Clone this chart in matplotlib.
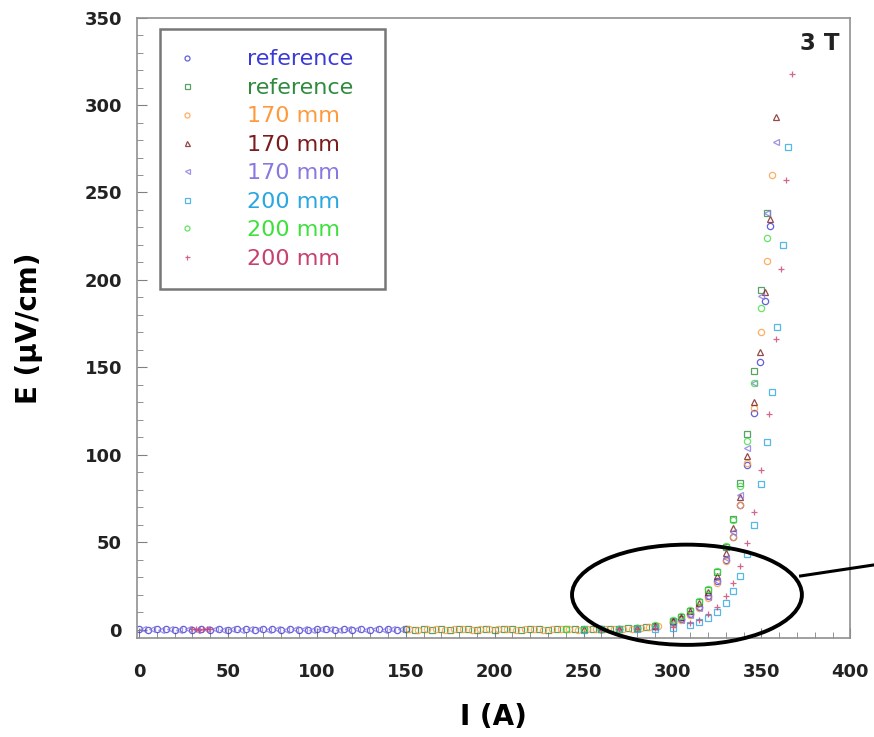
import matplotlib.pyplot as plt
from matplotlib.patches import Ellipse
from matplotlib.lines import Line2D
from matplotlib.ticker import MultipleLocator

plt.rcParams['font.family'] = ['DejaVu Sans']

# values: current I (A) and electric field E (uV/cm)
ref_blue_I = [0, 5, 10, 15, 20, 25, 30, 35, 40, 45, 50, 55, 60, 65, 70, 75, 80, 85, 90,
              95, 100, 105, 110, 115, 120, 125, 130, 135, 140, 145, 150,
              260, 270, 280, 290, 300, 305, 310, 315, 320, 325, 330, 334, 338, 342,
              346, 349, 352, 355]
ref_blue_E = [0.2, -0.3, 0.1, 0.3, -0.2, 0.2, 0.0, 0.3, -0.1, 0.2, -0.3, 0.1, 0.2, -0.2,
              0.1, 0.3, -0.1, 0.2, 0.0, -0.2, 0.3, 0.1, -0.2, 0.2, 0.0, 0.3, -0.1, 0.1,
              0.2, -0.2, 0.1,
              0.1, 0.3, 0.8, 1.8, 4.1, 6.0, 8.9, 13, 19, 28, 40, 53, 71, 94,
              124, 153, 188, 231]

ref_green_I = [150, 155, 160, 165, 170, 175, 180, 185, 190, 195, 200, 205, 210, 215, 220,
               225, 230, 235, 240, 245, 250, 255, 260, 265, 270, 275, 280, 285, 290,
               300, 305, 310, 315, 320, 325, 330, 334, 338, 342, 346, 350, 353]
ref_green_E = [0.1, -0.2, 0.3, 0.0, 0.2, -0.1, 0.3, 0.1, -0.2, 0.2, 0.0, 0.3, 0.1, -0.1,
               0.2, 0.1, 0.0, 0.3, 0.1, 0.2, 0.1, 0.2, 0.2, 0.3, 0.4, 0.6, 0.9, 1.4, 2.1,
               4.8, 7.1, 10.6, 15.5, 22.6, 32.8, 47, 63, 84, 112, 148, 194, 238]

o170_I = [152, 157, 162, 167, 172, 177, 182, 187, 192, 197, 202, 207, 212, 217, 222,
          227, 232, 237, 242, 247, 252, 257, 262, 267, 272, 277, 282, 287, 292,
          300, 305, 310, 315, 320, 325, 330, 334, 338, 342, 346, 350, 353, 356]
o170_E = [0.2, 0.0, 0.3, 0.1, -0.1, 0.2, 0.3, 0.0, 0.2, 0.1, 0.2, 0.3, 0.0, 0.2, 0.1,
          -0.1, 0.2, 0.3, 0.1, 0.0, 0.2, 0.1, 0.2, 0.3, 0.4, 0.5, 0.8, 1.2, 1.8,
          3.6, 5.5, 8.2, 12.2, 18.1, 26.7, 39, 53, 71, 95, 127, 170, 211, 260]

m170_I = [250, 260, 270, 280, 290, 300, 305, 310, 315, 320, 325, 330, 334, 338, 342,
          346, 349, 352, 355, 358]
m170_E = [0.1, 0.2, 0.4, 1.0, 2.2, 4.9, 7.1, 10.4, 15.0, 21.6, 30.8, 43.8, 57.8, 75.9,
          99.5, 130, 159, 193, 235, 293]

p170_I = [2.5, 7.5, 12.5, 17.5, 22.5, 27.5, 32.5, 37.5, 42.5, 47.5, 52.5, 57.5, 62.5,
          67.5, 72.5, 77.5, 82.5, 87.5, 92.5, 97.5, 102.5, 107.5, 112.5, 117.5, 122.5,
          127.5, 132.5, 137.5, 142.5, 147.5,
          260, 270, 280, 290, 300, 305, 310, 315, 320, 325, 330, 334, 338, 342, 346,
          350, 353, 358]
p170_E = [0.1, 0.3, -0.1, 0.2, 0.0, 0.2, -0.2, 0.1, 0.3, 0.0, 0.2, -0.1, 0.1, 0.2, 0.0,
          0.2, -0.2, 0.1, 0.3, 0.0, 0.1, 0.2, -0.1, 0.3, 0.1, 0.0, 0.2, -0.2, 0.1, 0.2,
          0.1, 0.2, 0.6, 1.4, 3.5, 5.3, 8.1, 12.3, 18.6, 27.8, 41, 56, 77, 104, 141,
          191, 238, 279]

c200_I = [250, 260, 270, 280, 290, 300, 310, 315, 320, 325, 330, 334, 338, 342, 346,
          350, 353, 356, 359, 362, 365]
c200_E = [0.0, 0.1, 0.1, 0.1, 0.4, 1.0, 2.6, 4.1, 6.4, 9.9, 15.4, 21.8, 30.7, 43, 60,
          83, 107, 136, 173, 220, 276]

g200_I = [240, 250, 260, 270, 280, 290, 300, 305, 310, 315, 320, 325, 330, 334, 338,
          342, 346, 350, 353]
g200_E = [0.1, 0.2, 0.3, 0.5, 1.1, 2.4, 5.3, 7.8, 11.3, 16.3, 23.4, 33.4, 47.6, 62.7,
          82, 108, 141, 184, 224]

k200_I = [30, 32, 34, 36, 38, 40, 260, 270, 280, 290, 300, 310, 315, 320, 325, 330,
          334, 338, 342, 346, 350, 354, 358, 361, 364, 367]
k200_E = [0.1, 0.3, 0.0, 0.2, 0.1, 0.3, 0.0, 0.1, 0.2, 0.6, 1.4, 3.7, 5.7, 8.6, 12.9,
          19.3, 26.5, 36.3, 49.5, 67.4, 91, 123, 166, 206, 257, 318]

series = [
    (ref_blue_I, ref_blue_E, 'reference', '#3a3ad8', 'o'),
    (ref_green_I, ref_green_E, 'reference', '#2e8b3e', 's'),
    (o170_I, o170_E, '170 mm', '#ff9a3c', 'o'),
    (m170_I, m170_E, '170 mm', '#7a1c1c', '^'),
    (p170_I, p170_E, '170 mm', '#8878e0', '<'),
    (c200_I, c200_E, '200 mm', '#2aa6e0', 's'),
    (g200_I, g200_E, '200 mm', '#3ee03e', 'o'),
    (k200_I, k200_E, '200 mm', '#c8406e', '+'),
]

fig = plt.figure(figsize=(8.74, 7.37), dpi=100)
ax = fig.add_axes([0.157, 0.134, 0.816, 0.842])

for x, y, lab, col, m in series:
    ax.plot(x, y, linestyle='none', marker=m, markersize=4.5, markerfacecolor='none',
            markeredgecolor=col, markeredgewidth=0.9, label=lab, alpha=0.8)

ax.set_xlim(-1, 400)
ax.set_ylim(-5, 350)
ax.xaxis.set_major_locator(MultipleLocator(50))
ax.xaxis.set_minor_locator(MultipleLocator(10))
ax.yaxis.set_major_locator(MultipleLocator(50))
ax.yaxis.set_minor_locator(MultipleLocator(10))
ax.tick_params(which='both', direction='in', colors='#808080', labelcolor='#222222')
ax.tick_params(which='major', length=7, labelsize=13)
ax.tick_params(axis='x', which='major', pad=18)
ax.tick_params(axis='y', which='major', pad=11)
ax.tick_params(which='minor', length=4)
for lbl in ax.get_xticklabels() + ax.get_yticklabels():
    lbl.set_fontweight('bold')
for sp in ax.spines.values():
    sp.set_color('#909090')
    sp.set_linewidth(1.2)

ax.set_xlabel('I (A)', fontsize=20, fontweight='bold', labelpad=16)
ax.set_ylabel('E (\u03bcV/cm)', fontsize=20, fontweight='bold', labelpad=30)

ax.text(0.985, 0.958, '3 T', transform=ax.transAxes, ha='right', va='center',
        fontsize=16.5, fontweight='bold', color='#222222')

leg = ax.legend(loc='upper left', bbox_to_anchor=(0.032, 0.5, 0.316, 0.481),
                mode='expand', borderaxespad=0, fontsize=16,
                labelcolor='markeredgecolor', frameon=True, fancybox=False,
                handletextpad=2.4, labelspacing=0.38, borderpad=0.9,
                handlelength=0.6, markerscale=0.8)
leg.get_frame().set_edgecolor('#555555')
leg.get_frame().set_linewidth(1.8)

# annotation ellipse and pointer line, drawn in figure coordinates
ell = Ellipse((0.786, 0.193), 0.263, 0.136, transform=fig.transFigure,
              fill=False, edgecolor='black', linewidth=2.8)
fig.add_artist(ell)
fig.add_artist(Line2D([0.916, 1.0], [0.2185, 0.2335], transform=fig.transFigure,
                      color='black', linewidth=2.2))

fig.savefig('out.png', dpi=100)
